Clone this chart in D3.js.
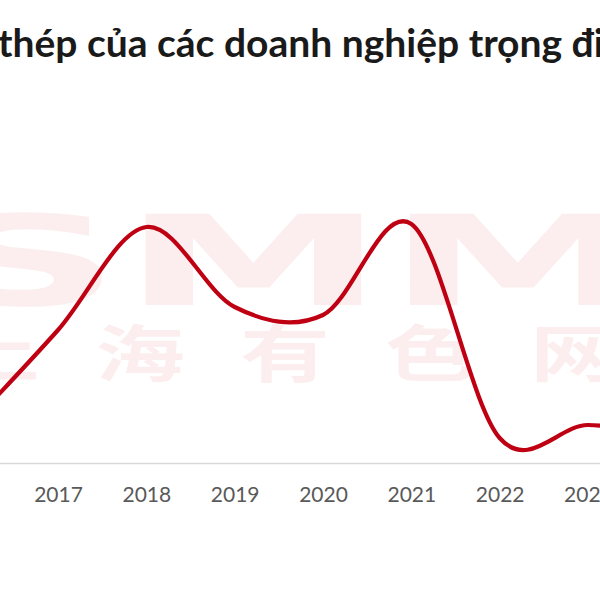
<!DOCTYPE html>
<html>
<head>
<meta charset="utf-8">
<script src="https://cdn.jsdelivr.net/npm/d3@7"></script>
<style>
  html, body { margin: 0; padding: 0; background: #fff; }
  svg { display: block; }
</style>
</head>
<body>
<svg id="chart" width="600" height="600"></svg>
<script>
// ---- data ----
const years = [2016, 2017, 2018, 2019, 2020, 2021, 2022, 2023, 2024];
const values = [38, 133, 236, 156, 148, 239, 25, 38, 25];
const tickLabels = ["2016", "2017", "2018", "2019", "2020", "2021", "2022", "2023", "2024"];
const titlePrefix = "Sản lượng ";
const titleMain = "thép của các doanh nghiệp trọng điểm";
const watermarkLatin = "SMM";
const watermarkCJK = "上海有色网";

const svg = d3.select("#chart");
const W = 600, H = 600;

const x = d3.scaleLinear().domain([2016, 2024]).range([-30.3, 676.3]);
const y = d3.scaleLinear().domain([0, 300]).range([463, 163]);

// ---- watermark ----
const wm = svg.append("g").attr("fill", "#d40000").attr("fill-opacity", 0.065);
wm.append("text")
  .attr("x", -70).attr("y", 305)
  .attr("font-family", "DejaVu Sans")
  .attr("font-weight", 700)
  .attr("font-size", 125)
  .attr("textLength", 720)
  .attr("lengthAdjust", "spacingAndGlyphs")
  .text(watermarkLatin);
wm.append("text")
  .attr("transform", "translate(-50,377) scale(1.45,1)")
  .attr("font-family", "Noto Sans CJK SC")
  .attr("font-weight", 700)
  .attr("font-size", 62)
  .attr("letter-spacing", 38)
  .text(watermarkCJK);

// ---- title ----
const titleSize = 39;
const title = svg.append("text")
  .attr("y", 57)
  .attr("font-family", "Lato")
  .attr("font-weight", 700)
  .attr("font-size", titleSize)
  .attr("fill", "#1a1a1a");
title.append("tspan").text(titlePrefix);
title.append("tspan").text(titleMain);
// shift so that the main part starts at the left edge
const pre = svg.append("text")
  .attr("font-family", "Lato").attr("font-weight", 700).attr("font-size", titleSize)
  .text(titlePrefix.replace(/ $/, "\u00a0"));
const preW = pre.node().getComputedTextLength();
pre.remove();
title.attr("x", -preW - 2);

// ---- axis ----
const axis = d3.axisBottom(x)
  .tickValues(years)
  .tickFormat((d, i) => tickLabels[i])
  .tickSize(0)
  .tickPadding(24);
const gx = svg.append("g").attr("transform", `translate(0,${y(0)})`).call(axis);
gx.select(".domain").attr("stroke", "#d9d9d9").attr("stroke-width", 1.5);
gx.selectAll("text")
  .attr("font-family", "Lato")
  .attr("font-size", 21)
  .attr("fill", "#595959");

// ---- line ----
const line = d3.line()
  .x((d, i) => x(years[i]))
  .y(d => y(d))
  .curve(d3.curveCardinal.tension(0));
svg.append("path")
  .datum(values)
  .attr("d", line)
  .attr("fill", "none")
  .attr("stroke", "#bf0012")
  .attr("stroke-width", 4.2)
  .attr("stroke-linejoin", "round");
</script>
</body>
</html>
